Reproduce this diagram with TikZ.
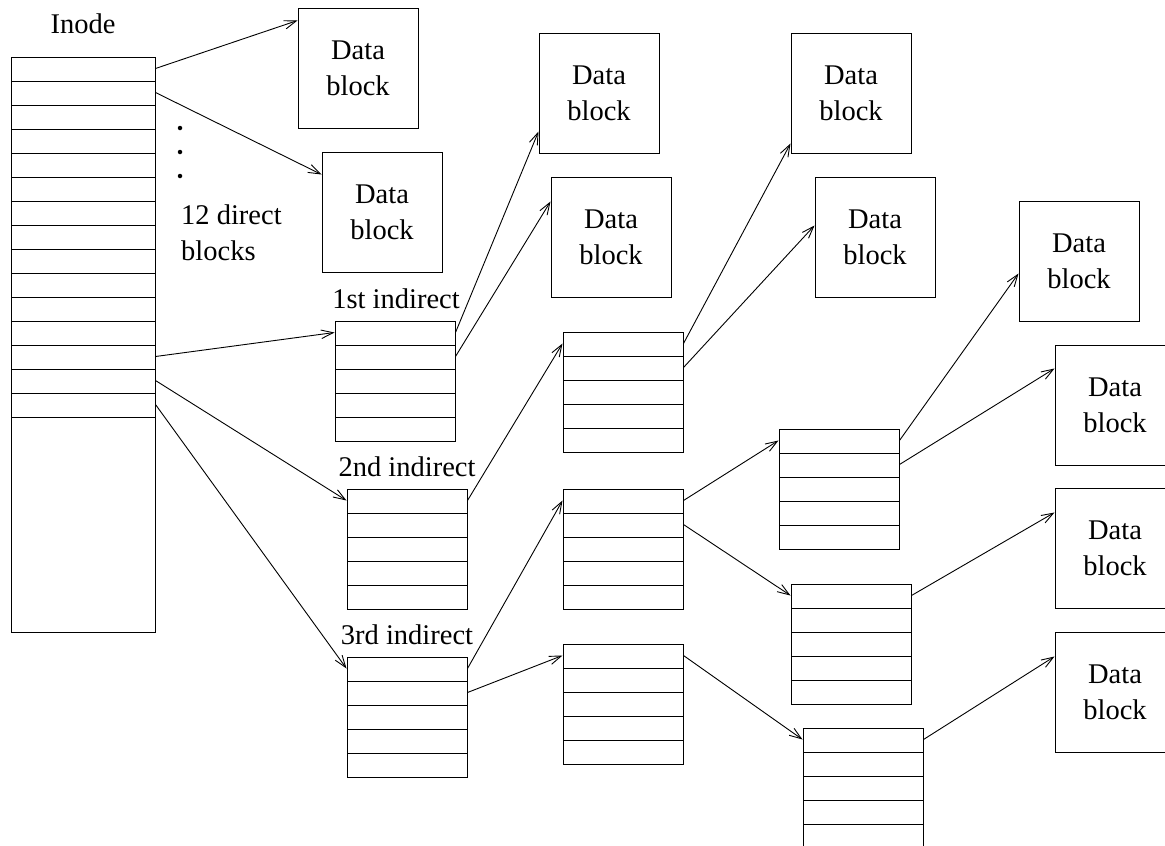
\documentclass[tikz,border=0pt]{standalone}
\usepackage{fontspec}
\setmainfont{Liberation Serif}
\usetikzlibrary{arrows.meta}
\begin{document}
\begin{tikzpicture}[x=1pt,y=-1pt,
  every node/.style={font=\fontsize{28.5}{36}\selectfont},
  box/.style={draw, line width=1pt, inner sep=0pt},
  datablk/.style={box, minimum width=120pt, minimum height=120pt, align=center},
  ptrblk/.style={box, minimum width=120pt, minimum height=120pt,
    path picture={\foreach \k in {1,...,4}{\draw[line width=1pt]
      ([yshift=-\k*24pt]path picture bounding box.north west) --
      ([yshift=-\k*24pt]path picture bounding box.north east);}}},
  inodeblk/.style={box, minimum width=144pt, minimum height=575pt,
    path picture={\foreach \k in {1,...,15}{\draw[line width=1pt]
      ([yshift=-\k*24pt]path picture bounding box.north west) --
      ([yshift=-\k*24pt]path picture bounding box.north east);}}},
  ptr/.style={line width=0.9pt, -{Straight Barb[length=12pt,width=8.5pt]}},
  lbl/.style={inner sep=0pt},
  dot/.style={circle, fill, inner sep=0pt, minimum size=4.5pt}]

\useasboundingbox (0,0) rectangle (1165,846);

% inode table
\node[inodeblk] (inode) at (83,344.5) {};
\node[lbl, anchor=base] (inodelbl) at (83,33) {Inode};

% the direct blocks
\node[dot] (dot1) at (180,128) {};
\node[dot] (dot2) at (180,152) {};
\node[dot] (dot3) at (180,176) {};
\node[lbl, anchor=west, align=left] (directlbl) at (181,233) {12 direct\\blocks};

% indirect pointer blocks
\node[ptrblk] (p1) at (395,381) {};
\node[ptrblk] (p2) at (407,549) {};
\node[ptrblk] (p3) at (407,717) {};
\node[lbl, anchor=base] (p1lbl) at (396,308) {1st indirect};
\node[lbl, anchor=base] (p2lbl) at (407,476) {2nd indirect};
\node[lbl, anchor=base] (p3lbl) at (407,644) {3rd indirect};

\node[ptrblk] (q1) at (623,392) {};
\node[ptrblk] (q2) at (623,549) {};
\node[ptrblk] (q3) at (623,704) {};

\node[ptrblk] (r1) at (839,489) {};
\node[ptrblk] (r2) at (851,644) {};
\node[ptrblk] (r3) at (863,788) {};

% data blocks
\node[datablk] (db1) at (358,68) {Data\\block};
\node[datablk] (db2) at (382,212) {Data\\block};
\node[datablk] (db3) at (599,93) {Data\\block};
\node[datablk] (db4) at (611,237) {Data\\block};
\node[datablk] (db5) at (851,93) {Data\\block};
\node[datablk] (db6) at (875,237) {Data\\block};
\node[datablk] (db7) at (1079,261) {Data\\block};
\node[datablk] (db8) at (1115,405) {Data\\block};
\node[datablk] (db9) at (1115,548) {Data\\block};
\node[datablk] (db10) at (1115,692) {Data\\block};

% pointers out of the inode
\draw[ptr] ([yshift=-12pt]inode.north east) -- ([yshift=-13pt]db1.north west);
\draw[ptr] ([yshift=-36pt]inode.north east) -- ([yshift=-23pt]db2.north west);
\draw[ptr] ([yshift=-300pt]inode.north east) -- ([yshift=-12pt]p1.north west);
\draw[ptr] ([yshift=-324pt]inode.north east) -- ([yshift=-12pt]p2.north west);
\draw[ptr] ([yshift=-348pt]inode.north east) -- ([yshift=-12pt]p3.north west);

% single indirect
\draw[ptr] ([yshift=-12pt]p1.north east) -- ([yshift=22pt]db3.south west);
\draw[ptr] ([yshift=-36pt]p1.north east) -- ([yshift=-25pt]db4.north west);

% double indirect
\draw[ptr] ([yshift=-12pt]p2.north east) -- ([yshift=-12pt]q1.north west);
\draw[ptr] ([yshift=-12pt]q1.north east) -- ([yshift=10pt]db5.south west);
\draw[ptr] ([yshift=-36pt]q1.north east) -- ([yshift=-49pt]db6.north west);

% triple indirect
\draw[ptr] ([yshift=-12pt]p3.north east) -- ([yshift=-12pt]q2.north west);
\draw[ptr] ([yshift=-36pt]p3.north east) -- ([yshift=-12pt]q3.north west);
\draw[ptr] ([yshift=-12pt]q2.north east) -- ([yshift=-12pt]r1.north west);
\draw[ptr] ([yshift=-36pt]q2.north east) -- ([yshift=-12pt]r2.north west);
\draw[ptr] ([yshift=-12pt]q3.north east) -- ([yshift=-12pt]r3.north west);
\draw[ptr] ([yshift=-12pt]r1.north east) -- ([yshift=-73pt]db7.north west);
\draw[ptr] ([yshift=-36pt]r1.north east) -- ([yshift=-24pt]db8.north west);
\draw[ptr] ([yshift=-12pt]r2.north east) -- ([yshift=-25pt]db9.north west);
\draw[ptr] ([yshift=-12pt]r3.north east) -- ([yshift=-25pt]db10.north west);
\end{tikzpicture}
\end{document}
